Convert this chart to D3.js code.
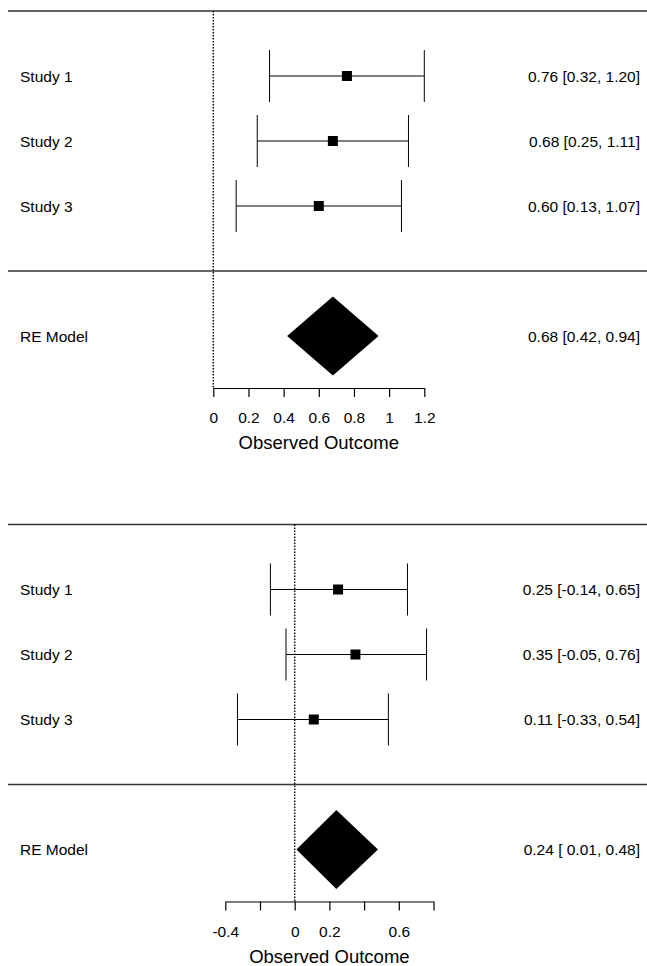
<!DOCTYPE html>
<html>
<head>
<meta charset="utf-8">
<script src="https://cdn.jsdelivr.net/npm/d3@7"></script>
<style>
  html, body { margin: 0; padding: 0; background: #fff; }
  svg { display: block; }
  text { font-family: "Liberation Sans", Arial, Helvetica, sans-serif; fill: #000; white-space: pre; }
</style>
</head>
<body>
<svg id="chart" width="647" height="966"></svg>
<script>
// ---- data ----
const studies = ["Study 1", "Study 2", "Study 3"];
const modelLabel = "RE Model";
const axisTitle = "Observed Outcome";

// panel A
const estA = [0.76, 0.68, 0.60];
const lowA = [0.32, 0.25, 0.13];
const highA = [1.20, 1.11, 1.07];
const reA = [0.68, 0.42, 0.94];           // estimate, lower, upper
const ticksA = [0, 0.2, 0.4, 0.6, 0.8, 1, 1.2];
const tickLabelsA = ["0", "0.2", "0.4", "0.6", "0.8", "1", "1.2"];

// panel B
const estB = [0.25, 0.35, 0.11];
const lowB = [-0.14, -0.05, -0.33];
const highB = [0.65, 0.76, 0.54];
const reB = [0.24, 0.01, 0.48];
const ticksB = [-0.4, -0.2, 0, 0.2, 0.4, 0.6, 0.8];
const tickLabelsB = ["-0.4", "", "0", "0.2", "", "0.6", ""];

// ---- drawing ----
const svg = d3.select("#chart");
const fmt0 = d3.format(".2f");
const fmt = v => fmt0(v).replace("\u2212", "-");

function panel(cfg) {
  const g = svg.append("g");
  const x = d3.scaleLinear().domain(cfg.xDomain).range(cfg.xRange);
  const y = d3.scaleLinear().domain([-1.8, 4]).range([cfg.yBottom, cfg.yBottom - 5.8 * 65]);
  const rowH = y(0) - y(1);

  // horizontal lines (top and separator)
  [4, 0].forEach(r => {
    g.append("line")
      .attr("x1", 8).attr("x2", 647)
      .attr("y1", y(r)).attr("y2", y(r))
      .attr("stroke", "#333").attr("stroke-width", 1.5);
  });

  // reference (zero) dotted line
  g.append("line")
    .attr("x1", x(0)).attr("x2", x(0))
    .attr("y1", y(4)).attr("y2", y(-1.8))
    .attr("stroke", "#000").attr("stroke-width", 1.4)
    .attr("stroke-dasharray", "1.5,1.5");

  const rows = studies.map((s, i) => ({
    name: s, est: cfg.est[i], lo: cfg.low[i], hi: cfg.high[i], r: 3 - i
  }));

  // pad lower-bound labels so they align like R
  const allLo = cfg.low.concat([cfg.re[1]]).map(fmt);
  const w = d3.max(allLo, s => s.length);
  const label = (e, l, h) => `${fmt(e)} [${fmt(l).padStart(w, " ")}, ${fmt(h)}]`;

  const capH = rowH * 0.4;
  const sq = 10;

  const rg = g.selectAll("g.row").data(rows).join("g").attr("class", "row");
  rg.append("line")
    .attr("x1", d => x(d.lo)).attr("x2", d => x(d.hi))
    .attr("y1", d => y(d.r)).attr("y2", d => y(d.r))
    .attr("stroke", "#000").attr("stroke-width", 1);
  rg.append("line")
    .attr("x1", d => x(d.lo)).attr("x2", d => x(d.lo))
    .attr("y1", d => y(d.r) - capH).attr("y2", d => y(d.r) + capH)
    .attr("stroke", "#000").attr("stroke-width", 1);
  rg.append("line")
    .attr("x1", d => x(d.hi)).attr("x2", d => x(d.hi))
    .attr("y1", d => y(d.r) - capH).attr("y2", d => y(d.r) + capH)
    .attr("stroke", "#000").attr("stroke-width", 1);
  rg.append("rect")
    .attr("x", d => x(d.est) - sq / 2).attr("y", d => y(d.r) - sq / 2)
    .attr("width", sq).attr("height", sq).attr("fill", "#000");
  rg.append("text")
    .attr("x", 20).attr("y", d => y(d.r)).attr("dy", "0.36em")
    .attr("font-size", 15.5)
    .text(d => d.name);
  rg.append("text")
    .attr("x", 640).attr("y", d => y(d.r)).attr("dy", "0.36em")
    .attr("text-anchor", "end").attr("font-size", 15.5)
    .text(d => label(d.est, d.lo, d.hi));

  // summary diamond
  const yr = y(-1), dh = rowH * 0.608;
  g.append("path")
    .attr("d", `M${x(cfg.re[1])},${yr} L${x(cfg.re[0])},${yr - dh} L${x(cfg.re[2])},${yr} L${x(cfg.re[0])},${yr + dh} Z`)
    .attr("fill", "#000");
  g.append("text")
    .attr("x", 20).attr("y", yr).attr("dy", "0.36em")
    .attr("font-size", 15.5).text(modelLabel);
  g.append("text")
    .attr("x", 640).attr("y", yr).attr("dy", "0.36em")
    .attr("text-anchor", "end").attr("font-size", 15.5)
    .text(label(cfg.re[0], cfg.re[1], cfg.re[2]));

  // axis
  const axis = d3.axisBottom(x)
    .tickValues(cfg.ticks)
    .tickFormat((d, i) => cfg.tickLabels[i])
    .tickSize(9).tickSizeOuter(0).tickPadding(15);
  const ag = g.append("g")
    .attr("transform", `translate(0,${y(-1.8)})`)
    .call(axis);
  ag.select(".domain").attr("stroke", "#000").attr("stroke-width", 1.2);
  ag.selectAll(".tick line").attr("stroke", "#000").attr("stroke-width", 1.2);
  ag.selectAll(".tick text")
    .attr("font-size", 15.5)
    .attr("font-family", "'Liberation Sans', Arial, Helvetica, sans-serif")
    .attr("fill", "#000");

  g.append("text")
    .attr("x", (cfg.xRange[0] + cfg.xRange[1]) / 2)
    .attr("y", y(-1.8) + 61)
    .attr("text-anchor", "middle")
    .attr("font-size", 18.5)
    .text(axisTitle);
}

panel({
  xDomain: [0, 1.2], xRange: [213.3, 424.3], yBottom: 388,
  est: estA, low: lowA, high: highA, re: reA,
  ticks: ticksA, tickLabels: tickLabelsA
});
panel({
  xDomain: [-0.4, 0.8], xRange: [225.3, 433.5], yBottom: 901.5,
  est: estB, low: lowB, high: highB, re: reB,
  ticks: ticksB, tickLabels: tickLabelsB
});
</script>
</body>
</html>
